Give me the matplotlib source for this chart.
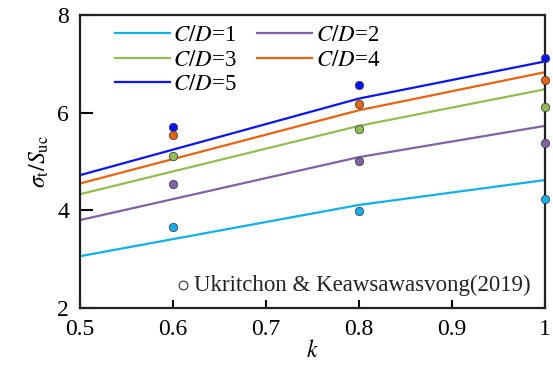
import numpy as np
import matplotlib.pyplot as plt

plt.rcParams['font.family'] = ['Liberation Serif', 'DejaVu Serif']
plt.rcParams['mathtext.fontset'] = 'stix'

# данные
k_line = [0.5, 0.8, 1.0]
k_pts = [0.6, 0.8, 1.0]
cd_labels = ['1', '2', '3', '4', '5']
line_vals = [
    [3.06, 4.11, 4.62],
    [3.80, 5.09, 5.73],
    [4.33, 5.73, 6.48],
    [4.55, 6.05, 6.83],
    [4.72, 6.29, 7.05],
]
pts_vals = [
    [3.66, 3.98, 4.23],
    [4.54, 5.01, 5.38],
    [5.11, 5.66, 6.11],
    [5.54, 6.17, 6.67],
    [5.70, 6.56, 7.13],
]
colors = ['#12b0ea', '#7f63a6', '#92bd52', '#e8620f', '#0a14f5']

fig = plt.figure(figsize=(5.53, 3.76), dpi=100)
ax = fig.add_axes([0.1447, 0.181, 0.841, 0.779])

handles = []
for lab, lv, pv, c in zip(cd_labels, line_vals, pts_vals, colors):
    h, = ax.plot(k_line, lv, color=c, lw=1.6, label=r'$C/D$=' + lab)
    handles.append(h)
    ax.scatter(k_pts, pv, s=36, color=c, edgecolor='#444444', linewidth=0.6,
               zorder=5, clip_on=False)

ax.set_xlim(0.5, 1.0)
ax.set_ylim(2, 8)
ax.set_xticks([0.5, 0.6, 0.7, 0.8, 0.9, 1.0])
ax.set_xticklabels(['0.5', '0.6', '0.7', '0.8', '0.9', '1'])
ax.set_yticks([2, 4, 6, 8])
ax.tick_params(axis='x', direction='in', length=6, width=1.5, labelsize=17, pad=8)
ax.tick_params(axis='y', direction='in', length=9, width=1.5, labelsize=17, pad=8)
for sp in ax.spines.values():
    sp.set_linewidth(1.6)
    sp.set_color('#222222')

ax.set_xlabel(r'$k$', fontsize=17, labelpad=0)
ax.set_ylabel(r'$\sigma_{\rm t}/S_{\rm uc}$', fontsize=17, labelpad=4)

# порядок как в оригинале: по строкам
order = [0, 2, 4, 1, 3]
ax.legend([handles[i] for i in order], [handles[i].get_label() for i in order],
          ncol=2, loc='upper left', frameon=False, fontsize=16.5,
          handlelength=2.4, handletextpad=0.15, columnspacing=0.9,
          labelspacing=0.15, borderaxespad=0.1, bbox_to_anchor=(0.05, 1.005))

ax.scatter([0.611], [2.47], s=40, facecolor='white', edgecolor='#333333',
           linewidth=0.8, zorder=6)
ax.text(0.623, 2.47, 'Ukritchon & Keawsawasvong(2019)', fontsize=16.5,
        va='center', ha='left', color='#222222')

plt.savefig('out.png', dpi=100)
